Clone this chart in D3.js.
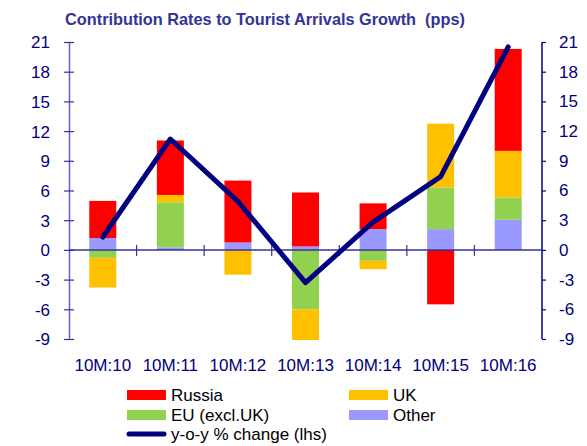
<!DOCTYPE html>
<html>
<head>
<meta charset="utf-8">
<script src="https://cdnjs.cloudflare.com/ajax/libs/d3/7.8.5/d3.min.js"></script>
<style>
body { margin: 0; background: #fff; }
svg { display: block; font-family: "Liberation Sans", Arial, sans-serif; }
</style>
</head>
<body>
<div id="chart"></div>
<script>
var categories = ["10M:10", "10M:11", "10M:12", "10M:13", "10M:14", "10M:15", "10M:16"];
var russia = [3.75, 5.5, 6.25, 5.45, 2.6, -5.5, 10.3];
var uk = [-3.0, 0.75, -2.5, -3.1, -0.85, 6.45, 4.7];
var eu = [-0.8, 4.55, 0, -6.0, -1.1, 4.2, 2.25];
var other = [1.2, 0.25, 0.75, 0.35, 2.1, 2.1, 3.05];
var yoy = [1.3, 11.2, 4.9, -3.3, 2.8, 7.4, 20.5];
var yTicks = [21, 18, 15, 12, 9, 6, 3, 0, -3, -6, -9];

var seriesKeys = ["other", "eu", "uk", "russia"];
var colors = { russia: "#ff0000", uk: "#ffc000", eu: "#92d050", other: "#9999ff" };

var width = 587, height = 446;
var plotLeft = 69, plotRight = 542, plotTop = 42, plotBottom = 339;

var rows = categories.map(function(c, i) {
  return { cat: c, russia: russia[i], uk: uk[i], eu: eu[i], other: other[i] };
});

var svg = d3.select("#chart").append("svg")
  .attr("width", width).attr("height", height);

var x = d3.scaleBand().domain(categories).range([plotLeft, plotRight]).paddingInner(0).paddingOuter(0);
var y = d3.scaleLinear().domain([-9, 21]).range([plotBottom, plotTop]);
var fmt = function(d) { return String(d); };  // plain hyphen minus like the original

// title
svg.append("text")
  .attr("x", 265).attr("y", 25)
  .attr("text-anchor", "middle")
  .style("white-space", "pre")
  .style("font-weight", "bold").style("font-size", "16.3px")
  .style("fill", "#333399")
  .text("Contribution Rates to Tourist Arrivals Growth  (pps)");

// bars
var stack = d3.stack().keys(seriesKeys).offset(d3.stackOffsetDiverging);
var layers = stack(rows);
var bw = 27;
svg.append("g").selectAll("g")
  .data(layers)
  .enter().append("g")
    .attr("fill", function(d) { return colors[d.key]; })
  .selectAll("rect")
  .data(function(d) { return d; })
  .enter().append("rect")
    .attr("x", function(d) { return x(d.data.cat) + x.bandwidth() / 2 - bw / 2; })
    .attr("width", bw)
    .attr("y", function(d) { return y(d[1]); })
    .attr("height", function(d) { return Math.abs(y(d[0]) - y(d[1])); });

// left axis
var leftAxis = d3.axisLeft(y).tickValues(yTicks).tickFormat(fmt).tickSize(0).tickPadding(0);
var gl = svg.append("g").attr("transform", "translate(" + plotLeft + ",0)").call(leftAxis);
gl.select(".domain").attr("stroke", "#6666b0").attr("stroke-width", 1.5);
gl.selectAll(".tick line").remove();
gl.selectAll(".tick").append("line")
  .attr("x1", -5).attr("x2", 5).attr("stroke", "#333399").attr("stroke-width", 1.2);
gl.selectAll(".tick text")
  .attr("x", -19).attr("dy", "0.35em")
  .style("font-size", "17px").style("fill", "#000080")
  .style("font-family", "'Liberation Sans', Arial, sans-serif");

// right axis
var rightAxis = d3.axisRight(y).tickValues(yTicks).tickFormat(fmt).tickSize(4).tickPadding(13);
var gr = svg.append("g").attr("transform", "translate(" + plotRight + ",0)").call(rightAxis);
gr.select(".domain").attr("stroke", "#000080").attr("stroke-width", 1.5)
  .attr("d", "M0," + plotTop + "V" + plotBottom);
gr.selectAll(".tick line").attr("stroke", "#000080").attr("stroke-width", 1.2);
gr.selectAll(".tick text")
  .style("font-size", "17px").style("fill", "#000080")
  .style("font-family", "'Liberation Sans', Arial, sans-serif");

// zero line with category ticks
var z = svg.append("g").attr("transform", "translate(0," + y(0) + ")");
z.append("line").attr("x1", plotLeft).attr("x2", plotRight)
  .attr("stroke", "#333399").attr("stroke-width", 1.5);
z.selectAll(".ct")
  .data(categories.slice(1))
  .enter().append("line")
    .attr("x1", function(d) { return x(d); }).attr("x2", function(d) { return x(d); })
    .attr("y1", -5).attr("y2", 6)
    .attr("stroke", "#333399").attr("stroke-width", 1.2);

// x labels
var xAxis = d3.axisBottom(x).tickSize(0).tickPadding(0);
var gx = svg.append("g").attr("transform", "translate(0,371)").call(xAxis);
gx.select(".domain").remove();
gx.selectAll(".tick text")
  .attr("y", 0).attr("dy", 0)
  .style("font-size", "17px").style("fill", "#000080")
  .style("font-family", "'Liberation Sans', Arial, sans-serif");

// y-o-y line
var line = d3.line()
  .x(function(d, i) { return x(categories[i]) + x.bandwidth() / 2; })
  .y(function(d) { return y(d); });
svg.append("path").datum(yoy)
  .attr("d", line).attr("fill", "none")
  .attr("stroke", "#000080").attr("stroke-width", 5)
  .attr("stroke-linejoin", "round").attr("stroke-linecap", "round");

// legend
var legendItems = [
  { label: "Russia", key: "russia", x: 127, y: 395 },
  { label: "UK", key: "uk", x: 349, y: 395 },
  { label: "EU (excl.UK)", key: "eu", x: 127, y: 415 },
  { label: "Other", key: "other", x: 349, y: 415 }
];
var lg = svg.append("g");
legendItems.forEach(function(it) {
  lg.append("rect").attr("x", it.x).attr("y", it.y - 5).attr("width", 39).attr("height", 10)
    .attr("fill", colors[it.key]);
  lg.append("text").attr("x", it.x + 44).attr("y", it.y + 6)
    .style("font-size", "17px").style("fill", "#000").text(it.label);
});
lg.append("line").attr("x1", 129).attr("x2", 164).attr("y1", 434).attr("y2", 434)
  .attr("stroke", "#000080").attr("stroke-width", 5).attr("stroke-linecap", "round");
lg.append("text").attr("x", 171).attr("y", 440)
  .style("font-size", "17px").style("fill", "#000").text("y-o-y % change (lhs)");
</script>
</body>
</html>
